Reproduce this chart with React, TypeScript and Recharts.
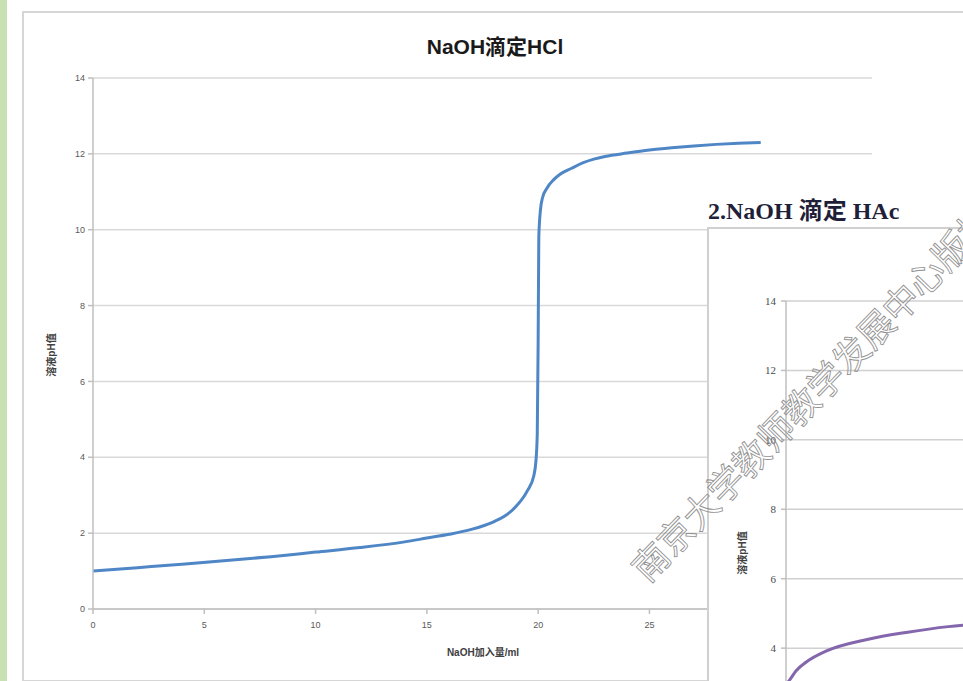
import { LineChart, Line, XAxis, YAxis, CartesianGrid } from 'recharts';

// NaOH 滴定 HCl：加入体积 (ml) 与溶液 pH
const hclVolume = [
  0, 2, 4, 6, 8, 10, 12, 14, 15, 16, 17, 18, 18.5, 19, 19.5, 19.8, 19.9, 19.96, 20, 20.03,
  20.1, 20.2, 20.4, 20.7, 21, 21.5, 22, 22.5, 23, 24, 25, 26, 27, 28, 29, 30,
];
const hclPH = [
  1.0, 1.09, 1.18, 1.28, 1.38, 1.5, 1.62, 1.77, 1.87, 1.97, 2.1, 2.3, 2.45, 2.7, 3.1, 3.5, 3.9,
  4.6, 7.0, 9.8, 10.5, 10.85, 11.1, 11.32, 11.47, 11.62, 11.76, 11.86, 11.93, 12.02, 12.1,
  12.16, 12.21, 12.25, 12.28, 12.3,
];

// NaOH 滴定 HAc（前段）
const hacVolume = [0, 0.2, 0.5, 1, 2, 4, 6, 8, 10];
const hacPH = [2.95, 3.1, 3.35, 3.6, 3.92, 4.25, 4.46, 4.62, 4.72];

const volumeTicks = [0, 5, 10, 15, 20, 25, 30, 35];
const phTicks = [0, 2, 4, 6, 8, 10, 12, 14];

const hclData = hclVolume.map((v, i) => ({ v, ph: hclPH[i] }));
const hacData = hacVolume.map((v, i) => ({ v, ph: hacPH[i] }));

const cjk = '"Liberation Sans", "Noto Sans CJK SC", sans-serif';
const serif = '"Liberation Serif", "DejaVu Serif", "Noto Sans CJK SC", serif';

export default function App() {
  return (
    <div
      style={{
        position: 'relative',
        width: 963,
        height: 681,
        overflow: 'hidden',
        background: '#fff',
        fontFamily: cjk,
      }}
    >
      <style>{'body{margin:0}'}</style>

      {/* 页面左侧绿色边条 */}
      <div style={{ position: 'absolute', left: 0, top: 0, width: 7, height: 681, background: '#c7e0b4' }} />

      {/* 图表外框 */}
      <div
        style={{
          position: 'absolute',
          left: 22,
          top: 11,
          width: 1000,
          height: 667,
          border: '2px solid #d6d6d6',
        }}
      />

      <div style={{ position: 'absolute', left: 0, top: 0 }}>
        <LineChart width={963} height={681} data={hclData} margin={{ top: 78, right: 91, bottom: 42, left: 33 }}>
          <CartesianGrid vertical={false} stroke="#d9d9d9" strokeWidth={1.5} />
          <XAxis
            type="number"
            dataKey="v"
            domain={[0, 35]}
            ticks={volumeTicks}
            height={30}
            stroke="#bfbfbf"
            strokeWidth={1.5}
            tickSize={5}
            tickMargin={8}
            tick={{ fontSize: 9, fill: '#595959', fontFamily: cjk }}
          />
          <YAxis
            type="number"
            domain={[0, 14]}
            ticks={phTicks}
            width={60}
            stroke="#bfbfbf"
            strokeWidth={1.5}
            tickSize={5}
            tickMargin={3}
            tick={{ fontSize: 9, fill: '#595959', fontFamily: cjk }}
          />
          <Line
            type="monotone"
            dataKey="ph"
            stroke="#4f86c6"
            strokeWidth={3}
            dot={false}
            isAnimationActive={false}
          />
        </LineChart>
      </div>

      <div
        style={{
          position: 'absolute',
          left: 495,
          top: 45,
          transform: 'translate(-50%, -50%)',
          fontSize: 21,
          fontWeight: 'bold',
          color: '#1a1a1a',
          whiteSpace: 'nowrap',
        }}
      >
        NaOH滴定HCl
      </div>
      <div
        style={{
          position: 'absolute',
          left: 50,
          top: 355,
          transform: 'translate(-50%, -50%) rotate(-90deg)',
          fontSize: 10,
          fontWeight: 'bold',
          color: '#404040',
          whiteSpace: 'nowrap',
        }}
      >
        溶液pH值
      </div>
      <div
        style={{
          position: 'absolute',
          left: 483,
          top: 651,
          transform: 'translate(-50%, -50%)',
          fontSize: 10,
          fontWeight: 'bold',
          color: '#404040',
          whiteSpace: 'nowrap',
        }}
      >
        NaOH加入量/ml
      </div>

      {/* 第二幅图：NaOH 滴定 HAc */}
      <div
        style={{
          position: 'absolute',
          left: 708,
          top: 197,
          fontFamily: serif,
          fontSize: 24,
          fontWeight: 'bold',
          color: '#1f1f3a',
          whiteSpace: 'nowrap',
          lineHeight: '28px',
        }}
      >
        2.NaOH 滴定 HAc
      </div>
      <div
        style={{
          position: 'absolute',
          left: 707,
          top: 227,
          width: 400,
          height: 600,
          borderLeft: '2px solid #d0d0d0',
          borderTop: '2px solid #d0d0d0',
          background: '#fff',
          overflow: 'hidden',
        }}
      >
        <LineChart width={847} height={618} data={hacData} margin={{ top: 72, right: 60, bottom: 60, left: 17 }}>
          <CartesianGrid vertical={false} stroke="#d0d0d0" strokeWidth={1.5} />
          <XAxis type="number" dataKey="v" domain={[0, 35]} ticks={volumeTicks} hide />
          <YAxis
            type="number"
            domain={[0, 14]}
            ticks={phTicks}
            width={60}
            stroke="#bfbfbf"
            strokeWidth={1.5}
            tickSize={5}
            tickMargin={5}
            tick={{ fontSize: 11, fill: '#4a4a4a', fontFamily: serif }}
          />
          <Line
            type="monotone"
            dataKey="ph"
            stroke="#8466ad"
            strokeWidth={3}
            dot={false}
            isAnimationActive={false}
          />
        </LineChart>
        <div
          style={{
            position: 'absolute',
            left: 32,
            top: 324,
            transform: 'translate(-50%, -50%) rotate(-90deg)',
            fontSize: 10,
            fontWeight: 'bold',
            color: '#404040',
            whiteSpace: 'nowrap',
          }}
        >
          溶液pH值
        </div>
      </div>

      {/* 斜向空心水印 */}
      <svg width={963} height={681} style={{ position: 'absolute', left: 0, top: 0, pointerEvents: 'none' }}>
        <text
          transform="translate(648, 584) rotate(-46)"
          fontSize={36}
          fontFamily='"Noto Sans CJK SC", sans-serif'
          fill="none"
          stroke="#929292"
          strokeWidth={0.9}
        >
          南京大学教师教学发展中心版权
        </text>
      </svg>
    </div>
  );
}
